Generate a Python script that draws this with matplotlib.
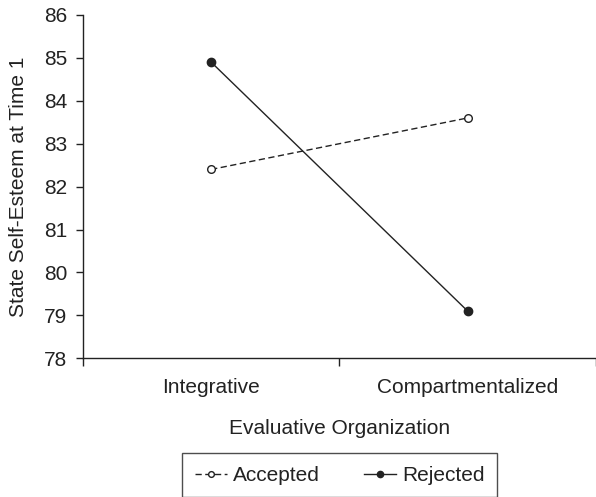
import numpy as np
import matplotlib.pyplot as plt

plt.rcParams['font.family'] = ['Liberation Sans', 'DejaVu Sans']

categories = ["Integrative", "Compartmentalized"]
accepted = [82.4, 83.6]
rejected = [84.9, 79.1]
yticks = [78, 79, 80, 81, 82, 83, 84, 85, 86]

fig = plt.figure(figsize=(5.96, 4.97), dpi=100)
ax = fig.add_axes([0.139, 0.279, 0.861, 0.691])

x = np.arange(len(categories)) + 0.5
col = "#222222"
fs = 15
ax.plot(x, accepted, color=col, lw=1, ls=(0, (4.5, 2.5)), marker="o",
        markersize=5.5, markerfacecolor="white", markeredgecolor=col,
        markeredgewidth=1, label="Accepted")
ax.plot(x, rejected, color=col, lw=1, ls="-", marker="o",
        markersize=6, markerfacecolor=col, markeredgecolor=col,
        label="Rejected")

ax.set_xlim(0, 2)
ax.set_ylim(78, 86)
ax.set_yticks(yticks)
ax.set_xticks([0, 1, 2])
ax.set_xticklabels([])
ax.set_xticks(x, minor=True)
ax.set_xticklabels(categories, minor=True)
ax.tick_params(axis="x", which="minor", length=0, pad=14, labelsize=fs)
ax.tick_params(axis="x", which="major", length=6, width=1, color=col)
ax.tick_params(axis="y", length=5, width=1, color=col, labelsize=fs, pad=6)

for s in ["top", "right"]:
    ax.spines[s].set_visible(False)
for s in ["left", "bottom"]:
    ax.spines[s].set_color(col)
    ax.spines[s].set_linewidth(1)

ax.set_xlabel("Evaluative Organization", fontsize=fs, labelpad=16, color=col)
ax.set_ylabel("State Self-Esteem at Time 1", fontsize=fs, labelpad=12, color=col)
for t in ax.get_xticklabels(minor=True) + ax.get_yticklabels():
    t.set_color(col)

leg = fig.legend(loc="center", bbox_to_anchor=(0.57, 0.0435), ncol=2,
                 fontsize=fs, frameon=True, fancybox=False, handlelength=1.55,
                 columnspacing=2.1, handletextpad=0.3, borderpad=0.6,
                 markerscale=0.75)
leg.get_frame().set_edgecolor(col)
leg.get_frame().set_linewidth(1)
for t in leg.get_texts():
    t.set_color(col)

fig.savefig("out.png", dpi=100)
